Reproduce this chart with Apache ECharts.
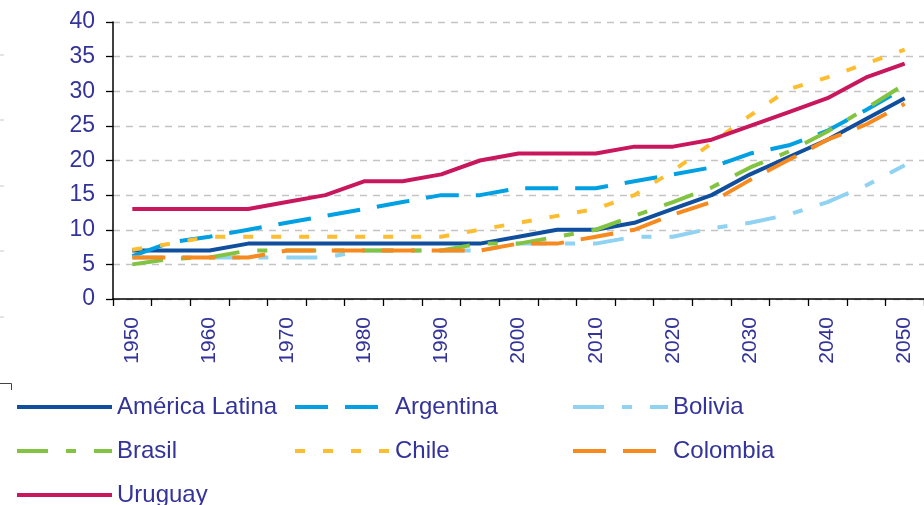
<!DOCTYPE html>
<html>
<head>
<meta charset="utf-8">
<script src="https://cdn.jsdelivr.net/npm/echarts@6/dist/echarts.min.js"></script>
<style>
html,body{margin:0;padding:0;background:#ffffff;}
#c{width:924px;height:505px;}
</style>
</head>
<body>
<div id="c"></div>
<script>
// ---- data ----
const years = ['1950','1955','1960','1965','1970','1975','1980','1985','1990','1995','2000',
               '2005','2010','2015','2020','2025','2030','2035','2040','2045','2050'];
const yTickMin = 0;
const yTickMax = 40;
const yTickStep = 5;

const americaLatina = [7,7,7,8,8,8,8,8,8,8,9,10,10,11,13,15,18,20.5,23,26,29];
const argentina     = [6.2,8.2,9,10,11,12,13,14,15,15,16,16,16,17,18,19,21,22.2,24.3,27.3,30.5];
const bolivia       = [6,6,6,6,6,6,7,7,7,7,8,8,8,9,9,10.2,11,12.2,14,16.4,19.3];
const brasil        = [5,5.8,6,7,7,7,7,7,7,8,8,9,10,12,14,16.1,19,21.3,24.2,27.5,31];
const chile         = [7.1,8,9,9,9,9,9,9,9,10,11,12,13,15,18.5,22.5,26.5,30.3,32,34,36];
const colombia      = [6,6,6,6,7,7,7,7,7,7,8,8,9,10,12.2,14,17.2,20.1,23,25.2,28.2];
const uruguay       = [13,13,13,13,14,15,17,17,18,20,21,21,21,22,22,23,25,27,29,32,34];

const names = ['América Latina','Argentina','Bolivia','Brasil','Chile','Colombia','Uruguay'];

// ---- styles ----
const txt = '#333399';
const font = '"Liberation Sans", Arial, sans-serif';
const longDash = [33, 17];
const dashDot = [31, 18, 10, 18];
const dots = [10, 18];

function mk(name, data, color, dash) {
  return {
    name: name, type: 'line', data: data, symbol: 'none', showSymbol: false,
    animation: false, silent: true,
    lineStyle: { color: color, width: 4, type: dash || 'solid', cap: 'butt', join: 'round' },
    itemStyle: { color: color }
  };
}

const legendCommon = {
  orient: 'vertical', top: 395, height: 200, itemWidth: 95, itemHeight: 14, itemGap: 20,
  selectedMode: false, padding: 0,
  lineStyle: { width: 4 },
  itemStyle: { opacity: 0, borderWidth: 0 },
  textStyle: { fontSize: 24, lineHeight: 24, color: txt, fontFamily: font }
};

const chart = echarts.init(document.getElementById('c'), null, { renderer: 'canvas' });
chart.setOption({
  animation: false,
  backgroundColor: '#ffffff',
  grid: { left: 113, right: -5, top: 22, bottom: 206, containLabel: false },
  xAxis: {
    type: 'category', data: years, boundaryGap: true,
    axisLine: { show: true, lineStyle: { color: '#000000', width: 1.5 } },
    axisTick: { show: true, interval: 0, length: 7, lineStyle: { color: '#000000', width: 1.3 } },
    axisLabel: { interval: 1, rotate: 90, margin: 18, fontSize: 21, color: txt, fontFamily: font },
    splitLine: { show: false }
  },
  yAxis: {
    type: 'value', min: yTickMin, max: yTickMax, interval: yTickStep,
    axisLine: { show: true, lineStyle: { color: '#000000', width: 1.5 } },
    axisTick: { show: true, length: 7, lineStyle: { color: '#000000', width: 1.3 } },
    axisLabel: { margin: 18, fontSize: 23, color: txt, fontFamily: font },
    splitLine: { show: true, lineStyle: { color: '#c4c4c4', width: 1.3, type: [7, 6] } }
  },
  legend: [
    Object.assign({}, legendCommon, { left: 15, data: [names[0], names[3], names[6]] }),
    Object.assign({}, legendCommon, { left: 293, data: [names[1], names[4]] }),
    Object.assign({}, legendCommon, { left: 571, data: [names[2], names[5]] })
  ],
  graphic: [
    { type: 'polyline', silent: true, shape: { points: [[0, 383.5], [11.5, 383.5], [11.5, 390]] },
      style: { stroke: '#444444', lineWidth: 1, fill: null } },
    { type: 'line', silent: true, shape: { x1: 0, y1: 55, x2: 4, y2: 55 }, style: { stroke: '#c8c8c8', lineWidth: 1 } },
    { type: 'line', silent: true, shape: { x1: 0, y1: 120, x2: 4, y2: 120 }, style: { stroke: '#c8c8c8', lineWidth: 1 } },
    { type: 'line', silent: true, shape: { x1: 0, y1: 186, x2: 4, y2: 186 }, style: { stroke: '#c8c8c8', lineWidth: 1 } },
    { type: 'line', silent: true, shape: { x1: 0, y1: 251, x2: 4, y2: 251 }, style: { stroke: '#c8c8c8', lineWidth: 1 } },
    { type: 'line', silent: true, shape: { x1: 0, y1: 317, x2: 4, y2: 317 }, style: { stroke: '#c8c8c8', lineWidth: 1 } }
  ],
  series: [
    mk(names[0], americaLatina, '#0f4f9e'),
    mk(names[1], argentina, '#00a0e2', longDash),
    mk(names[2], bolivia, '#8fd2f2', dashDot),
    mk(names[3], brasil, '#82c341', dashDot),
    mk(names[4], chile, '#fdbd30', dots),
    mk(names[5], colombia, '#f68a1f', longDash),
    mk(names[6], uruguay, '#c8175d')
  ]
});
</script>
</body>
</html>
